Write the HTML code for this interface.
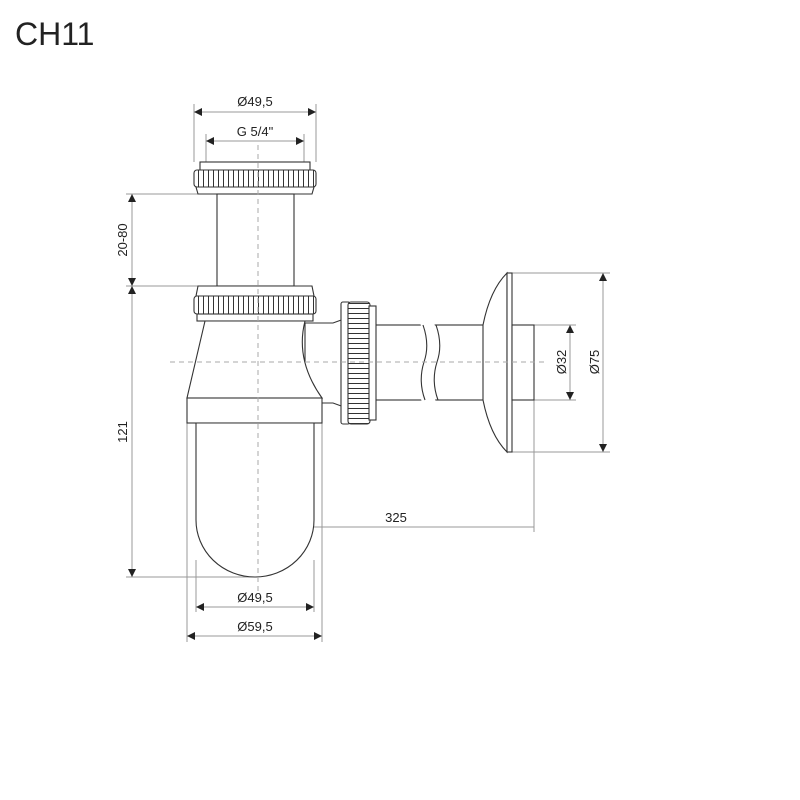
<!DOCTYPE html>
<html><head><meta charset="utf-8"><style>
html,body{margin:0;padding:0;background:#fff;width:800px;height:800px;overflow:hidden}
svg{display:block}
text{font-family:"Liberation Sans",sans-serif;fill:#222}
</style></head><body>
<svg width="800" height="800" viewBox="0 0 800 800" xmlns="http://www.w3.org/2000/svg">
<defs>
<pattern id="kv" x="1" width="5" height="20" patternUnits="userSpaceOnUse"><rect width="5" height="20" fill="#fff"/><line x1="2.5" y1="0" x2="2.5" y2="20" stroke="#333" stroke-width="1"/></pattern>
<pattern id="kh" y="1" width="20" height="5" patternUnits="userSpaceOnUse"><rect width="20" height="5" fill="#fff"/><line x1="0" y1="2.5" x2="20" y2="2.5" stroke="#333" stroke-width="1"/></pattern>
<marker id="a" viewBox="0 0 10 10" refX="10" refY="5" markerWidth="11" markerHeight="8" markerUnits="userSpaceOnUse" orient="auto-start-reverse"><path d="M0,0L10,5L0,10z" fill="#222"/></marker>
</defs>
<text x="15" y="45" font-size="32">CH11</text>

<g stroke="#999" stroke-width="1" fill="none">
<line x1="194" y1="104" x2="194" y2="162"/><line x1="316" y1="104" x2="316" y2="162"/>
<line x1="206" y1="134" x2="206" y2="162"/><line x1="304" y1="134" x2="304" y2="162"/>
<line x1="126" y1="194" x2="217" y2="194"/><line x1="126" y1="286" x2="217" y2="286"/>
<line x1="126" y1="577" x2="258" y2="577"/>
<line x1="507" y1="273" x2="610" y2="273"/><line x1="507" y1="452" x2="610" y2="452"/>
<line x1="534" y1="325" x2="576" y2="325"/><line x1="534" y1="400" x2="576" y2="400"/>
<line x1="534" y1="400" x2="534" y2="532"/>
<line x1="196" y1="560" x2="196" y2="612"/><line x1="314" y1="560" x2="314" y2="612"/>
<line x1="187" y1="423" x2="187" y2="642"/><line x1="322" y1="423" x2="322" y2="642"/>
</g>
<g stroke="#999" stroke-width="1" fill="none" marker-start="url(#a)" marker-end="url(#a)">
<line x1="194" y1="112" x2="316" y2="112"/>
<line x1="206" y1="141" x2="304" y2="141"/>
<line x1="132" y1="194" x2="132" y2="286"/>
<line x1="132" y1="286" x2="132" y2="577"/>
<line x1="570" y1="325" x2="570" y2="400"/>
<line x1="603" y1="273" x2="603" y2="452"/>
<line x1="196" y1="607" x2="314" y2="607"/>
<line x1="187" y1="636" x2="322" y2="636"/>
</g>
<line x1="258" y1="527" x2="534" y2="527" stroke="#999" marker-start="url(#a)"/>

<g font-size="13" text-anchor="middle">
<text x="255" y="106">Ø49,5</text>
<text x="255" y="136">G 5/4"</text>
<text x="396" y="522">325</text>
<text x="255" y="602">Ø49,5</text>
<text x="255" y="631">Ø59,5</text>
<text transform="translate(127,240) rotate(-90)">20-80</text>
<text transform="translate(127,432) rotate(-90)">121</text>
<text transform="translate(566,362) rotate(-90)">Ø32</text>
<text transform="translate(599,362) rotate(-90)">Ø75</text>
</g>

<g stroke="#333" stroke-width="1.1" fill="#fff">
<rect x="200" y="162" width="110" height="9"/>
<rect x="194" y="170" width="122" height="17" rx="3" fill="url(#kv)"/>
<path d="M196,187 L314,187 L312,194 L198,194 Z"/>
<rect x="217" y="194" width="77" height="92"/>
<path d="M198,286 L312,286 L314,296 L196,296 Z"/>
<rect x="194" y="296" width="122" height="18" rx="3" fill="url(#kv)"/>
<rect x="197" y="314" width="116" height="7"/>
<path d="M305,323 L333,323 L344,319 L344,407 L333,403 L305,403 Z"/>
<path d="M205,321 L305,321 Q295,360 322,398 L187,398 Z"/>
<rect x="187" y="398" width="135" height="25"/>
<path d="M196,423 L196,520 A59,57 0 0 0 314,520 L314,423 Z"/>
<rect x="375" y="325" width="110" height="75"/>
<rect x="341" y="302" width="9" height="122" rx="2"/>
<rect x="348" y="302" width="22" height="122" rx="3" fill="url(#kh)"/>
<rect x="369" y="306" width="7" height="114"/>
<path d="M483,325 Q490,290 507,273 L507,452 Q490,435 483,400 Z"/>
<rect x="507" y="273" width="5" height="179"/>
<rect x="512" y="325" width="22" height="75"/>
</g>
<path d="M420,323 Q428,343 420,362 Q414,382 422,402 L436,402 Q428,382 434,362 Q442,343 434,323 Z" fill="#fff" stroke="none"/>
<path d="M423,325 Q430,345 424,362 Q418,381 425,400 M436,325 Q443,345 437,362 Q431,381 438,400" stroke="#333" stroke-width="1.1" fill="none"/>

<g stroke="#aaa" stroke-width="1" stroke-dasharray="5,4" fill="none">
<line x1="258" y1="145" x2="258" y2="595"/>
<line x1="170" y1="362" x2="545" y2="362"/>
</g>
</svg>
</body></html>
